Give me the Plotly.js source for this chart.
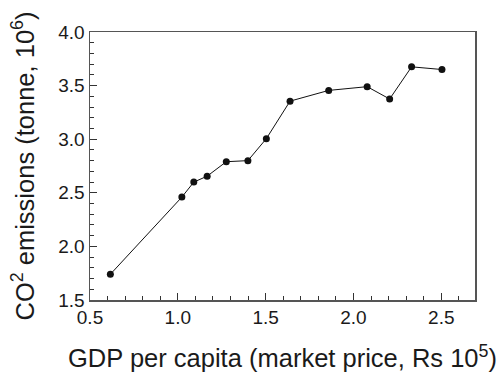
<!DOCTYPE html>
<html>
<head>
<meta charset="utf-8">
<script src="https://cdn.plot.ly/plotly-3.0.1.min.js"></script>
<style>html,body{margin:0;padding:0;background:#fff;}#chart{width:499px;height:375px;}</style>
</head>
<body>
<div id="chart"></div>
<script>
const gdpPerCapita = [0.616, 1.023, 1.091, 1.167, 1.276, 1.399, 1.504, 1.639, 1.859, 2.078, 2.206, 2.331, 2.504];
const co2Emissions = [1.74, 2.46, 2.60, 2.655, 2.79, 2.80, 3.005, 3.355, 3.455, 3.49, 3.375, 3.675, 3.65];
const xTickVals = [0.5, 1.0, 1.5, 2.0, 2.5];
const xTickText = ['0.5', '1.0', '1.5', '2.0', '2.5'];
const yTickVals = [1.5, 2.0, 2.5, 3.0, 3.5, 4.0];
const yTickText = ['1.5', '2.0', '2.5', '3.0', '3.5', '4.0'];
const xRange = [0.5, 2.692];
const yRange = [1.5, 4.0];

const font = {family: 'Liberation Sans, Arial, sans-serif', color: '#1a1a1a'};
const trace = {
  x: gdpPerCapita, y: co2Emissions, type: 'scatter', mode: 'lines+markers',
  line: {color: '#111', width: 1},
  marker: {color: '#111', size: 7},
  cliponaxis: false, showlegend: false
};
function minorTicks(start, end) {
  const out = [];
  for (let i = Math.round(start * 10); i <= Math.round(end * 10); i++) out.push(i / 10);
  return out;
}
const axisCommon = {
  showgrid: false, zeroline: false, showline: true, linecolor: '#555', linewidth: 1.5,
  mirror: true, ticks: 'inside', ticklen: 7, tickwidth: 1, tickcolor: '#333',
  tickfont: Object.assign({size: 19}, font)
};
const layout = {
  width: 499, height: 375,
  margin: {l: 90, r: 24, t: 32, b: 75},
  paper_bgcolor: '#fff', plot_bgcolor: '#fff',
  font: font,
  xaxis: Object.assign({}, axisCommon, {
    range: xRange, tickmode: 'array', tickvals: xTickVals, ticktext: xTickText,
    minor: {tickmode: 'array', tickvals: minorTicks(0.5, 2.6), ticks: 'inside', ticklen: 4, tickcolor: '#333', tickwidth: 1, showgrid: false},
    title: {text: 'GDP per capita (market price, Rs 10<sup>5</sup>)', font: Object.assign({size: 25.5}, font), standoff: 22}
  }),
  yaxis: Object.assign({}, axisCommon, {
    range: yRange, tickmode: 'array', tickvals: yTickVals, ticktext: yTickText,
    minor: {tickmode: 'array', tickvals: minorTicks(1.5, 4.0), ticks: 'inside', ticklen: 4, tickcolor: '#333', tickwidth: 1, showgrid: false},
    title: {text: 'CO<sup>2</sup> emissions (tonne, 10<sup>6</sup>)', font: Object.assign({size: 25.5}, font), standoff: 16}
  })
};
Plotly.newPlot('chart', [trace], layout, {staticPlot: true, displayModeBar: false});
</script>
</body>
</html>
